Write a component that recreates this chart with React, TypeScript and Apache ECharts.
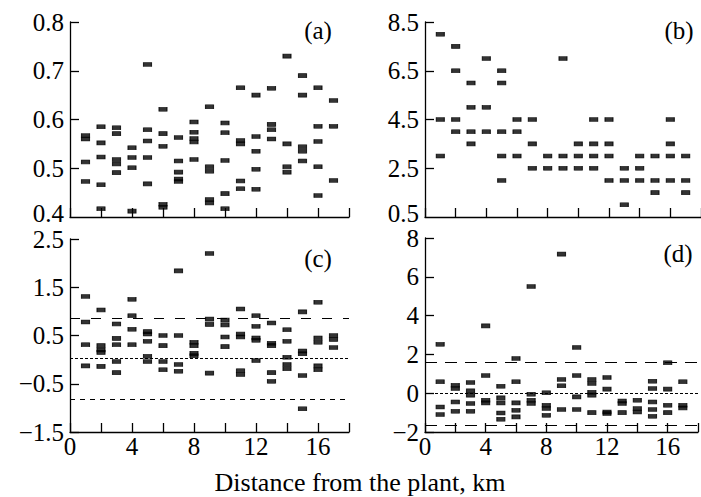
import React, { useEffect, useRef } from "react";
import * as echarts from "echarts";

const distances = [1, 2, 3, 4, 5, 6, 7, 8, 9, 10, 11, 12, 13, 14, 15, 16, 17];

const panelA: number[][] = [
  [0.567, 0.56, 0.513, 0.473],
  [0.585, 0.552, 0.523, 0.466, 0.417],
  [0.583, 0.571, 0.518, 0.509, 0.491],
  [0.542, 0.522, 0.501, 0.412],
  [0.713, 0.579, 0.556, 0.522, 0.468],
  [0.621, 0.571, 0.545, 0.426, 0.42],
  [0.563, 0.515, 0.492, 0.478, 0.473],
  [0.595, 0.574, 0.561, 0.554, 0.518],
  [0.626, 0.503, 0.494, 0.436, 0.429],
  [0.593, 0.573, 0.516, 0.448, 0.417],
  [0.665, 0.557, 0.55, 0.474, 0.458],
  [0.65, 0.565, 0.535, 0.498, 0.457],
  [0.664, 0.59, 0.579, 0.56],
  [0.73, 0.55, 0.503, 0.492],
  [0.69, 0.65, 0.544, 0.535, 0.515],
  [0.665, 0.586, 0.555, 0.503, 0.444],
  [0.639, 0.586, 0.475],
];

const panelB: number[][] = [
  [8, 4.5, 3],
  [7.5, 6.5, 4.5, 4],
  [6, 5, 4, 3.5],
  [7, 5, 4],
  [6.5, 6, 4, 3, 2],
  [4.5, 4, 3],
  [4.5, 3.5, 2.5],
  [3, 2.5],
  [7, 3, 2.5],
  [3.5, 3, 2.5],
  [4.5, 3.5, 3, 2.5],
  [4.5, 3.5, 3, 2],
  [2.5, 2, 1],
  [3, 2.5, 2],
  [3, 2, 1.5],
  [4.5, 3.5, 3, 2],
  [3, 2, 1.5],
];

const panelC: number[][] = [
  [1.31, 0.78, 0.31, -0.13],
  [1.03, 0.29, 0.2, 0.15, -0.14],
  [0.74, 0.44, 0.31, -0.04, -0.27],
  [1.25, 0.91, 0.63, 0.31],
  [0.58, 0.53, 0.38, 0.07, -0.04],
  [0.5, 0.29, -0.04, -0.21],
  [1.84, 0.5, -0.1, -0.24],
  [0.36, 0.29, 0.13, 0.08],
  [2.2, 0.84, 0.73, -0.28],
  [0.82, 0.72, 0.47, 0.27],
  [1.05, 0.53, 0.47, -0.23, -0.31],
  [0.91, 0.69, 0.45, 0.4, -0.02],
  [0.76, 0.34, 0.29, -0.27, -0.45],
  [0.62, 0.38, 0.05, -0.1, -0.19],
  [0.99, 0.18, 0.12, -0.33, -1.02],
  [1.19, 0.45, 0.36, -0.13, -0.21],
  [0.5, 0.42, 0.25],
];

const panelD: number[][] = [
  [2.52, 0.59, -0.71, -1.1],
  [0.41, 0.24, -0.45, -0.93],
  [0.55, 0.12, -0.1, -0.53, -0.93],
  [3.47, 0.91, -0.36, -0.5],
  [0.36, -0.24, -0.5, -1.02, -1.34],
  [1.79, 0.59, -0.5, -0.88, -1.22],
  [5.5, -0.05, -0.36, -0.53],
  [0.02, -0.62, -0.79, -1.14],
  [7.17, 0.71, 0.38, -0.84],
  [2.36, 0.91, -0.19, -0.84],
  [0.71, 0.5, 0.05, -0.1, -1.0],
  [0.81, 0.21, -0.97, -1.05],
  [-0.4, -0.53, -1.0],
  [-0.36, -0.79, -0.97],
  [0.62, 0.24, -0.45, -0.84, -1.19],
  [1.57, 0.21, -0.62, -1.0],
  [0.59, -0.62, -0.76],
];

const refLinesC = [0.85, 0.03, -0.83];
const refLinesD = [1.62, 0.02, -1.66];

const yRanges = [
  { min: 0.4, max: 0.8, interval: 0.1 },
  { min: 0.5, max: 8.5, interval: 2 },
  { min: -1.5, max: 2.5, interval: 1 },
  { min: -2, max: 8, interval: 2 },
];

const panelLabels = ["(a)", "(b)", "(c)", "(d)"];
const xTitle = "Distance from the plant, km";

const FONT = "Liberation Serif";
const FS = 25;

function toPoints(panel: number[][]): number[][] {
  const out: number[][] = [];
  panel.forEach((vals, i) => {
    vals.forEach((v) => out.push([distances[i], v]));
  });
  return out;
}

export default function App() {
  const ref = useRef<HTMLDivElement>(null);
  useEffect(() => {
    document.body.style.margin = "0";
    if (!ref.current) return;
    const chart = echarts.init(ref.current, null, { renderer: "svg" });

    const grids = [
      { left: 70, top: 22, width: 279, height: 195 },
      { left: 425, top: 22, width: 279, height: 195 },
      { left: 70, top: 239, width: 279, height: 193 },
      { left: 425, top: 238, width: 279, height: 194 },
    ];

    const minus = (v: number) => {
      const s = String(Math.round(v * 1000) / 1000);
      return s.replace("-", "\u2212");
    };
    const fmtY = (i: number) => (v: number) => (i === 0 ? v.toFixed(1) : minus(v));

    const xAxes = grids.map((_, i) => ({
      type: "value",
      gridIndex: i,
      min: 0,
      max: 18,
      interval: 2,
      axisLine: { show: true, onZero: false, lineStyle: { color: "#000", width: 1.3 } },
      axisTick: { show: true, inside: true, length: 9, lineStyle: { color: "#000", width: 1.3 } },
      splitLine: { show: false },
      axisLabel: {
        show: i >= 2,
        margin: 2,
        fontFamily: FONT,
        fontSize: FS,
        color: "#000",
        formatter: (v: number) => (v % 4 === 0 && v < 18 ? String(v) : ""),
      },
    }));

    const yAxes = yRanges.map((r, i) => ({
      type: "value",
      gridIndex: i,
      min: r.min,
      max: r.max,
      interval: r.interval,
      axisLine: { show: true, onZero: false, lineStyle: { color: "#000", width: 1.3 } },
      axisTick: { show: true, inside: true, length: 9, lineStyle: { color: "#000", width: 1.3 } },
      splitLine: { show: false },
      axisLabel: {
        margin: 6,
        fontFamily: FONT,
        fontSize: FS,
        color: "#000",
        showMinLabel: i >= 2,
        formatter: fmtY(i),
      },
    }));

    const mkLine = (vals: number[], styles: number[][]) => ({
      silent: true,
      symbol: "none",
      label: { show: false },
      animation: false,
      data: vals.map((v, k) => ({
        yAxis: v,
        lineStyle: { color: "#000", width: 1.2, type: styles[k] },
      })),
    });

    const panels = [panelA, panelB, panelC, panelD];
    const series: any[] = panels.map((p, i) => ({
      type: "scatter",
      xAxisIndex: i,
      yAxisIndex: i,
      symbol: "rect",
      symbolSize: [8, 4],
      itemStyle: { color: "#000", borderColor: "#000", borderWidth: 0.8 },
      data: toPoints(p),
      z: 3,
    }));
    series[2].markLine = mkLine(refLinesC, [[10, 11], [3, 2], [5, 5]]);
    series[3].markLine = mkLine(refLinesD, [[12, 8], [3, 2], [12, 8]]);

    const labelPos = [
      [318, 30],
      [679, 30],
      [318, 258],
      [678, 253],
    ];

    // bottom tick labels of the upper panels, nudged up slightly so they do not collide
    const upperMinLabels = [0, 1].map((i) => ({
      type: "text",
      x: grids[i].left - 6,
      y: grids[i].top + grids[i].height - 4,
      style: {
        text: fmtY(i)(yRanges[i].min),
        fontFamily: FONT,
        fontSize: FS,
        fill: "#000",
        textAlign: "right",
        textVerticalAlign: "middle",
      },
    }));

    chart.setOption({
      animation: false,
      backgroundColor: "#fff",
      grid: grids,
      xAxis: xAxes,
      yAxis: yAxes,
      series,
      graphic: [
        ...upperMinLabels,
        ...panelLabels.map((t, i) => ({
          type: "text",
          x: labelPos[i][0],
          y: labelPos[i][1],
          style: {
            text: t,
            fontFamily: FONT,
            fontSize: FS,
            fill: "#000",
            textAlign: "center",
            textVerticalAlign: "middle",
          },
        })),
        {
          type: "text",
          x: 360,
          y: 482,
          style: {
            text: xTitle,
            fontFamily: FONT,
            fontSize: 26,
            fill: "#000",
            textAlign: "center",
            textVerticalAlign: "middle",
          },
        },
      ],
    });
    return () => chart.dispose();
  }, []);
  return <div ref={ref} style={{ width: 701, height: 497 }} />;
}
